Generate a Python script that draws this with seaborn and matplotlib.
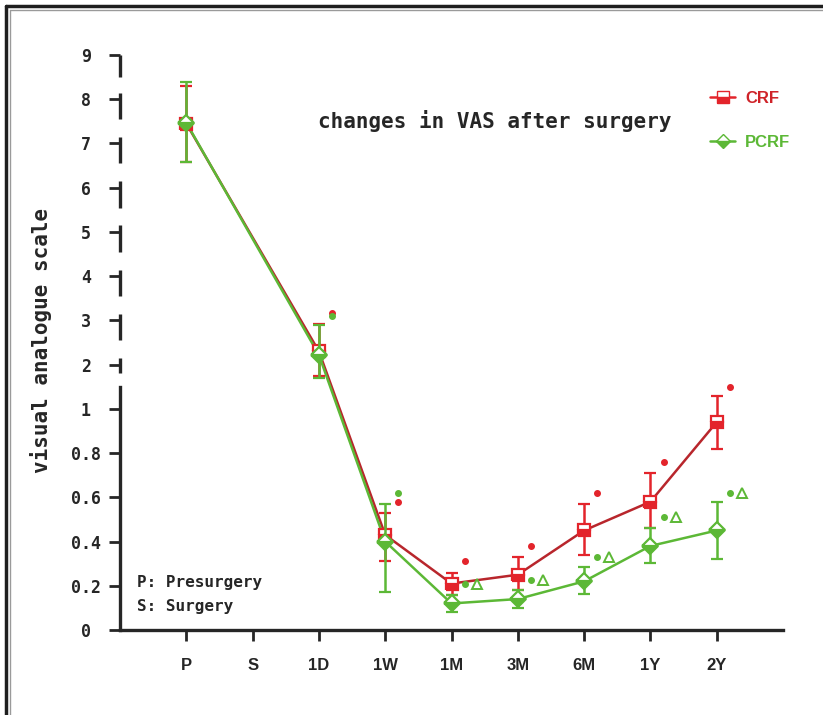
import numpy as np
import pandas as pd
import matplotlib
matplotlib.use("Agg")
import matplotlib.pyplot as plt
from matplotlib.lines import Line2D
import seaborn as sns

# dados
categorias = ["P", "S", "1D", "1W", "1M", "3M", "6M", "1Y", "2Y"]
tempos = ["P", "1D", "1W", "1M", "3M", "6M", "1Y", "2Y"]

crf_media = [7.45, 2.30, 0.43, 0.21, 0.25, 0.45, 0.58, 0.94]
crf_err_inf = [0.86, 0.62, 0.12, 0.05, 0.07, 0.11, 0.12, 0.12]
crf_err_sup = [0.86, 0.62, 0.10, 0.05, 0.08, 0.12, 0.13, 0.12]

pcrf_media = [7.47, 2.22, 0.40, 0.12, 0.14, 0.22, 0.38, 0.45]
pcrf_err_inf = [0.88, 0.65, 0.23, 0.04, 0.04, 0.055, 0.075, 0.13]
pcrf_err_sup = [0.93, 0.67, 0.17, 0.04, 0.04, 0.065, 0.08, 0.13]

# marcas de significancia (* e triangulo)
sig_tempos = ["1D", "1W", "1M", "3M", "6M", "1Y", "2Y"]
sig_crf = [3.17, 0.58, 0.31, 0.38, 0.62, 0.76, 1.10]
sig_pcrf = [3.11, 0.62, 0.21, 0.225, 0.33, 0.51, 0.62]
tri_tempos = ["1M", "3M", "6M", "1Y", "2Y"]
tri_pcrf = [0.21, 0.225, 0.33, 0.51, 0.62]

yticks = [0, 0.2, 0.4, 0.6, 0.8, 1, 2, 3, 4, 5, 6, 7, 8, 9]
ytick_labels = ["0", "0.2", "0.4", "0.6", "0.8", "1", "2", "3", "4", "5", "6", "7", "8", "9"]

VERMELHO_LINHA = "#b8262c"
VERMELHO = "#e3242b"
VERDE = "#5cb836"
PRETO = "#262626"

MONO = ["DejaVu Sans Mono"]
NARROW = ["Liberation Sans"]


def escala_fwd(y):
    y = np.asarray(y, dtype=float)
    return np.where(y <= 1.1, 5 * y,
                    np.where(y < 1.8, 5.5 + (y - 1.1) * (0.3 / 0.7), y + 4))


def escala_inv(t):
    t = np.asarray(t, dtype=float)
    return np.where(t <= 5.5, t / 5,
                    np.where(t < 5.8, 1.1 + (t - 5.5) * (0.7 / 0.3), t - 4))


pos = {c: i for i, c in enumerate(categorias)}

df = pd.concat([
    pd.DataFrame({"tempo": tempos, "VAS": crf_media, "grupo": "CRF"}),
    pd.DataFrame({"tempo": tempos, "VAS": pcrf_media, "grupo": "PCRF"}),
])
df["pos"] = df["tempo"].map(pos)

sns.set_style("ticks")
plt.rcParams["font.family"] = ["DejaVu Sans"]

fig = plt.figure(figsize=(8.23, 7.15), dpi=100)
ax = fig.add_axes([120 / 823, 1 - 630 / 715, 663 / 823, 575 / 715])
ax.set_yscale("function", functions=(escala_fwd, escala_inv))

sns.lineplot(
    data=df, x="pos", y="VAS", hue="grupo", hue_order=["CRF", "PCRF"],
    palette={"CRF": VERMELHO_LINHA, "PCRF": VERDE}, sort=False,
    linewidth=1.8, legend=False, ax=ax, zorder=2,
)

x_t = [pos[t] for t in tempos]
ax.errorbar(x_t, crf_media, yerr=[crf_err_inf, crf_err_sup], fmt="s",
            color=VERMELHO, ms=9, fillstyle="bottom", markerfacecoloralt="white",
            mec=VERMELHO, mew=1.6, elinewidth=1.8, capsize=4.5, capthick=1.8, zorder=3)
ax.errorbar(x_t, pcrf_media, yerr=[pcrf_err_inf, pcrf_err_sup], fmt="D",
            color=VERDE, ms=8, fillstyle="bottom", markerfacecoloralt="white",
            mec=VERDE, mew=1.6, elinewidth=1.8, capsize=4.5, capthick=1.8, zorder=4)

x_sig = [pos[t] + 0.2 for t in sig_tempos]
ax.plot(x_sig, sig_crf, "o", color=VERMELHO, ms=4, ls="none", zorder=5)
ax.plot(x_sig, sig_pcrf, "o", color=VERDE, ms=4, ls="none", zorder=5)
x_tri = [pos[t] + 0.38 for t in tri_tempos]
ax.plot(x_tri, tri_pcrf, "^", mfc="white", mec=VERDE, mew=1.4, ms=6.5, ls="none", zorder=5)

ax.set_xlim(-1, 9)
ax.set_ylim(0, 9)
ax.set_xticks(range(len(categorias)))
ax.set_xticklabels(categorias, family=NARROW, fontweight="bold", fontsize=12, color=PRETO)
ax.set_yticks(yticks)
ax.set_yticklabels(ytick_labels, family=MONO, fontweight="bold", fontsize=12,
                   color=PRETO, ha="center")
ax.set_xlabel("")
ax.set_ylabel("visual analogue scale", family=MONO, fontweight="bold", fontsize=15,
              color=PRETO)
ax.yaxis.set_label_coords(-68 / 663, 0.504)
ax.tick_params(axis="both", direction="out", length=8, width=2, color=PRETO)
ax.tick_params(axis="x", pad=12)
ax.tick_params(axis="y", pad=16.5)
ax.minorticks_off()

for lado in ["top", "right"]:
    ax.spines[lado].set_visible(False)
ax.spines["bottom"].set_linewidth(2.4)
ax.spines["bottom"].set_color(PRETO)
ax.spines["left"].set_linewidth(2.4)
ax.spines["left"].set_color(PRETO)
ax.spines["left"].set_bounds(0, 1.1)

# eixo superior quebrado em segmentos
sup = [k for k in yticks if k >= 2]
seg_inf = [max(k - 0.45, 1.8) if k < 9 else 8.5 for k in sup]
seg_sup = [k + 0.15 if k < 9 else 9 for k in sup]
ax.vlines([-1] * len(sup), seg_inf, seg_sup, color=PRETO, lw=2.4, clip_on=False)

fig.text(495 / 823, 1 - 121 / 715, "changes in VAS after surgery", family=MONO,
         fontweight="bold", fontsize=15, color=PRETO, ha="center", va="center")
fig.text(137 / 823, 1 - 583 / 715, "P: Presurgery", family=MONO, fontweight="bold",
         fontsize=11.5, color=PRETO, ha="left", va="center")
fig.text(137 / 823, 1 - 606 / 715, "S: Surgery", family=MONO, fontweight="bold",
         fontsize=11.5, color=PRETO, ha="left", va="center")

proxies = [
    Line2D([], [], color=VERMELHO, lw=1.8, marker="s", ms=8, fillstyle="bottom",
           markerfacecoloralt="white", mec=VERMELHO),
    Line2D([], [], color=VERDE, lw=1.8, marker="D", ms=7, fillstyle="bottom",
           markerfacecoloralt="white", mec=VERDE),
]
ax.legend(proxies, ["CRF", "PCRF"], loc="upper left",
          bbox_to_anchor=(710 / 823, 1 - 91 / 715), bbox_transform=fig.transFigure,
          frameon=False, borderpad=0, borderaxespad=0, handlelength=1.5,
          handletextpad=0.6, labelspacing=1.72,
          prop={"family": NARROW, "weight": "bold", "size": 12},
          labelcolor=["#cf2329", VERDE])

# moldura da imagem
fig.add_artist(Line2D([6 / 823, 1], [1 - 6 / 715] * 2, transform=fig.transFigure,
                      color="#1e1e1e", lw=2.5))
fig.add_artist(Line2D([10 / 823, 1], [1 - 10 / 715] * 2, transform=fig.transFigure,
                      color="#9a9a9a", lw=1))
fig.add_artist(Line2D([6 / 823] * 2, [0, 1 - 6 / 715], transform=fig.transFigure,
                      color="#1e1e1e", lw=2.5))
fig.add_artist(Line2D([10 / 823] * 2, [0, 1 - 10 / 715], transform=fig.transFigure,
                      color="#9a9a9a", lw=1))

fig.savefig("out.png", dpi=100)
plt.close(fig)
